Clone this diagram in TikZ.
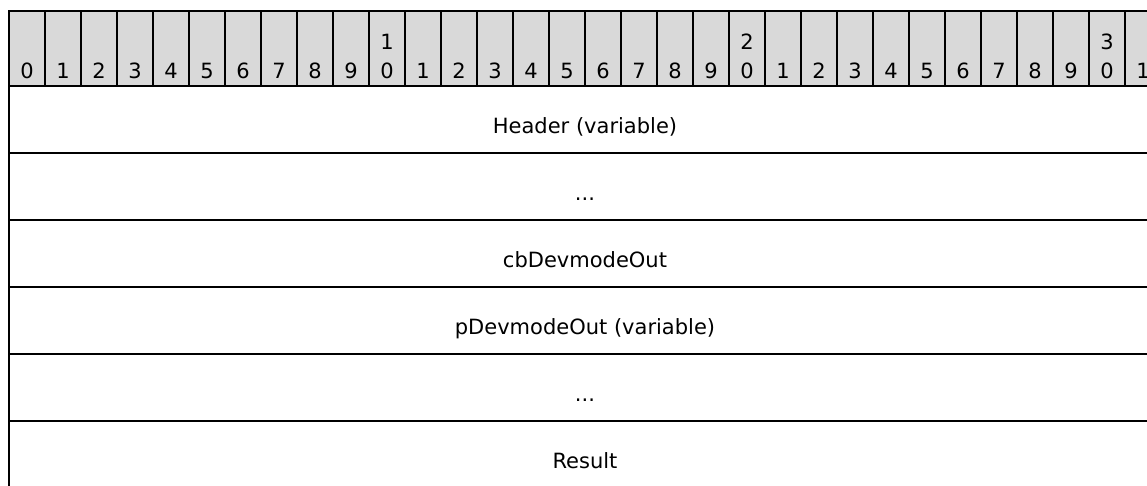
\documentclass[tikz,border=0pt]{standalone}
\usepackage{fontspec}
\setmainfont{DejaVu Sans}
\definecolor{cellgray}{RGB}{217,217,217}
\tikzset{
  bitcell/.style={draw, fill=cellgray, line width=2pt, minimum width=36pt, minimum height=75pt, inner sep=0pt},
  bitnum/.style={anchor=base, inner sep=0pt, font=\fontsize{21}{25}\selectfont},
  fieldrow/.style={draw, line width=2.4pt, minimum width=1152pt, minimum height=67pt, inner sep=0pt,
    text height=28pt, text depth=0pt, font=\fontsize{21}{25}\selectfont}
}
\begin{document}
\begin{tikzpicture}[x=1pt, y=-1pt]
      \useasboundingbox (0,0) rectangle (1147,485);
      \clip (0,0) rectangle (1147,485);

      % bit numbers
      \foreach \i in {0,...,31} {
        \pgfmathtruncatemacro{\u}{mod(\i,10)}
        \pgfmathtruncatemacro{\t}{div(\i,10)}
        \node[bitcell] at ({27+36*\i},48.5) (c\i) {};
        \node[bitnum] at ([yshift=9pt]c\i.south) (u\i) {\u};
        \ifnum\u=0 \ifnum\t>0
          \node[bitnum] at ([yshift=29pt]u\i.base) (t\i) {\t};
        \fi\fi
      }

      % fields
      \node[fieldrow] at (585,119.5) (header) {Header (variable)};
      \node[fieldrow] at (585,186.5) (gap1) {...};
      \node[fieldrow] at (585,253.5) (cb) {cbDevmodeOut};
      \node[fieldrow] at (585,320.5) (pdev) {pDevmodeOut (variable)};
      \node[fieldrow] at (585,387.5) (gap2) {...};
      \node[fieldrow] at (585,454.5) (result) {Result};
    \end{tikzpicture}
\end{document}
